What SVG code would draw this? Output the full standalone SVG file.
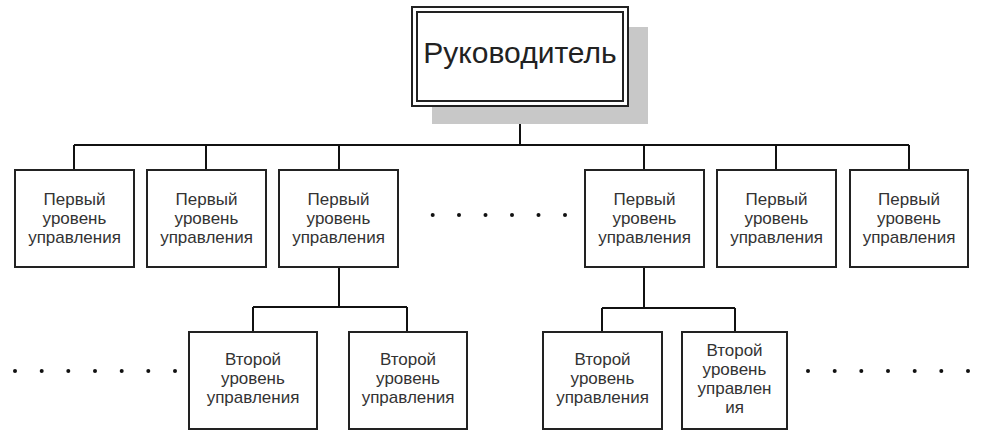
<svg xmlns="http://www.w3.org/2000/svg" width="981" height="439" viewBox="0 0 981 439">
<style>
.box{fill:#fff;stroke:#222;stroke-width:2}
.t{font-family:"Liberation Sans",Arial,sans-serif;font-size:17px;fill:#333;text-anchor:middle}
.title{font-family:"Liberation Sans",Arial,sans-serif;font-size:30px;fill:#222;text-anchor:middle}
.ln{fill:none;stroke:#111;stroke-width:2}
.dot{fill:#111}
</style>
<rect width="981" height="439" fill="#fff"/>
<g id="connectors">
<path class="ln" d="M520,106 V145 M74,145 H909 M74,145 V170 M206,145 V170 M339,145 V170 M644,145 V170 M776,145 V170 M909,145 V170"/>
<path class="ln" d="M339,267 V307 M253,307 H407 M253,307 V332 M407,307 V332"/>
<path class="ln" d="M644,267 V308 M602,308 H735 M602,308 V332 M735,308 V332"/>
</g>
<g id="root">
<rect x="432" y="27" width="216" height="97" fill="#c8c8c8"/>
<rect x="412" y="7" width="216" height="99" class="box"/>
<rect x="417" y="12" width="206" height="89" fill="none" stroke="#222" stroke-width="2"/>
<text class="title" x="520" y="63">Руководитель</text>
</g>
<g id="l1-1"><rect class="box" x="15" y="170" width="119" height="97"/><text class="t" x="74.5" y="205">Первый<tspan x="74.5" dy="19">уровень</tspan><tspan x="74.5" dy="19">управления</tspan></text></g>
<g id="l1-2"><rect class="box" x="147" y="170" width="119" height="97"/><text class="t" x="206.5" y="205">Первый<tspan x="206.5" dy="19">уровень</tspan><tspan x="206.5" dy="19">управления</tspan></text></g>
<g id="l1-3"><rect class="box" x="279" y="170" width="119" height="97"/><text class="t" x="338.5" y="205">Первый<tspan x="338.5" dy="19">уровень</tspan><tspan x="338.5" dy="19">управления</tspan></text></g>
<g id="l1-4"><rect class="box" x="585" y="170" width="119" height="97"/><text class="t" x="644.5" y="205">Первый<tspan x="644.5" dy="19">уровень</tspan><tspan x="644.5" dy="19">управления</tspan></text></g>
<g id="l1-5"><rect class="box" x="717" y="170" width="119" height="97"/><text class="t" x="776.5" y="205">Первый<tspan x="776.5" dy="19">уровень</tspan><tspan x="776.5" dy="19">управления</tspan></text></g>
<g id="l1-6"><rect class="box" x="850" y="170" width="118" height="97"/><text class="t" x="909" y="205">Первый<tspan x="909" dy="19">уровень</tspan><tspan x="909" dy="19">управления</tspan></text></g>
<g id="l2-1"><rect class="box" x="189" y="332" width="128" height="97"/><text class="t" x="253" y="365">Второй<tspan x="253" dy="19">уровень</tspan><tspan x="253" dy="19">управления</tspan></text></g>
<g id="l2-2"><rect class="box" x="349" y="332" width="118" height="97"/><text class="t" x="408" y="365">Второй<tspan x="408" dy="19">уровень</tspan><tspan x="408" dy="19">управления</tspan></text></g>
<g id="l2-3"><rect class="box" x="543" y="332" width="119" height="97"/><text class="t" x="602.5" y="365">Второй<tspan x="602.5" dy="19">уровень</tspan><tspan x="602.5" dy="19">управления</tspan></text></g>
<g id="l2-4"><rect class="box" x="682" y="332" width="105" height="97"/><text class="t" x="734.5" y="356">Второй<tspan x="734.5" dy="19">уровень</tspan><tspan x="734.5" dy="19">управлен</tspan><tspan x="734.5" dy="19">ия</tspan></text></g>
<g id="dots">
<circle class="dot" cx="432.7" cy="215" r="2"/><circle class="dot" cx="459" cy="215" r="2"/><circle class="dot" cx="485.5" cy="215" r="2"/><circle class="dot" cx="512" cy="215" r="2"/><circle class="dot" cx="538.5" cy="215" r="2"/><circle class="dot" cx="565" cy="215" r="2"/>
<circle class="dot" cx="15" cy="371" r="2"/><circle class="dot" cx="41.7" cy="371" r="2"/><circle class="dot" cx="68.3" cy="371" r="2"/><circle class="dot" cx="95" cy="371" r="2"/><circle class="dot" cx="121.7" cy="371" r="2"/><circle class="dot" cx="148.3" cy="371" r="2"/><circle class="dot" cx="175" cy="371" r="2"/>
<circle class="dot" cx="808" cy="371" r="2"/><circle class="dot" cx="834.7" cy="371" r="2"/><circle class="dot" cx="861.3" cy="371" r="2"/><circle class="dot" cx="888" cy="371" r="2"/><circle class="dot" cx="914.7" cy="371" r="2"/><circle class="dot" cx="941.3" cy="371" r="2"/><circle class="dot" cx="968" cy="371" r="2"/>
</g>
</svg>
